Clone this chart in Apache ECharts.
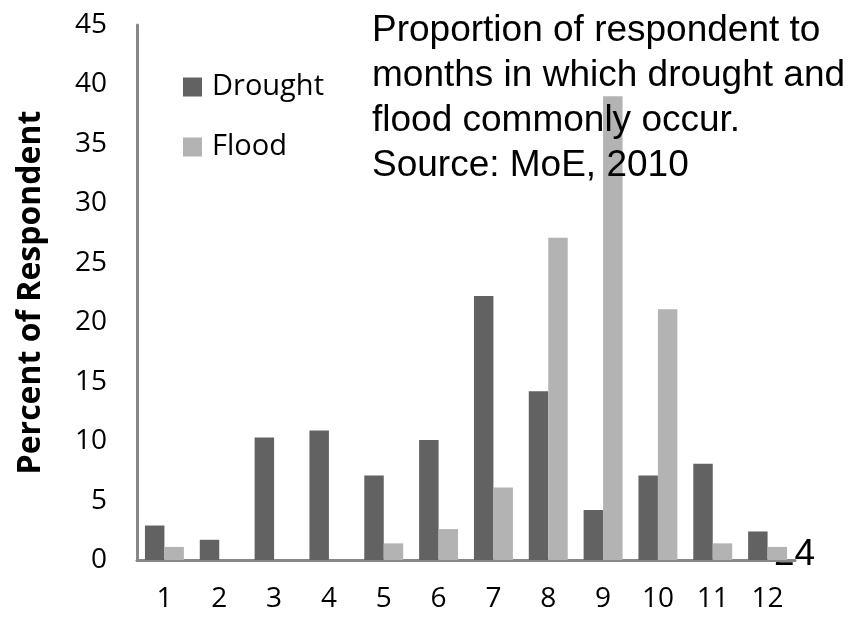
<!DOCTYPE html>
<html>
<head>
<meta charset="utf-8">
<script src="https://cdn.jsdelivr.net/npm/echarts@6/dist/echarts.min.js"></script>
<style>html,body{margin:0;padding:0;background:#fff}#c{width:866px;height:626px}</style>
</head>
<body>
<div id="c"></div>
<script>
const months = ['1','2','3','4','5','6','7','8','9','10','11','12'];
const drought = [2.9, 1.7, 10.3, 10.9, 7.1, 10.1, 22.2, 14.2, 4.2, 7.1, 8.1, 2.4];
const flood = [1.1, 0, 0, 0, 1.4, 2.6, 6.1, 27.1, 39.0, 21.1, 1.4, 1.1];
const seriesNames = ['Drought', 'Flood'];
const yAxisName = 'Percent of Respondent';
const noteLines = ['Proportion of respondent to', 'months in which drought and', 'flood commonly occur.', 'Source: MoE, 2010'];
const pageNumber = '24';

const chart = echarts.init(document.getElementById('c'));
chart.setOption({
  animation: false,
  backgroundColor: '#ffffff',
  grid: { left: 137, right: 71, top: 25, bottom: 66, show: true, backgroundColor: '#ffffff', borderWidth: 0, z: 0 },
  legend: {
    orient: 'vertical', left: 178, top: 66,
    itemWidth: 19, itemHeight: 19, itemGap: 28, icon: 'rect',
    data: seriesNames,
    textStyle: { fontFamily: 'Open Sans', fontSize: 29, color: '#000', lineHeight: 32, padding: [0, 0, 0, 5] }
  },
  xAxis: {
    type: 'category', data: months,
    axisLine: { show: true, lineStyle: { color: '#888888', width: 3 } },
    axisTick: { show: false },
    axisLabel: { fontFamily: 'Open Sans', fontSize: 28, color: '#000', margin: 25 }
  },
  yAxis: {
    type: 'value', min: 0, max: 45, interval: 5,
    name: yAxisName, nameLocation: 'middle', nameGap: 90, nameRotate: 90,
    nameTextStyle: { fontFamily: 'Open Sans', fontWeight: 'bold', fontSize: 32, color: '#000' },
    axisLine: { show: true, lineStyle: { color: '#888888', width: 3 } },
    axisTick: { show: false },
    splitLine: { show: false },
    axisLabel: { fontFamily: 'Open Sans', fontSize: 28, color: '#000', margin: 30 }
  },
  series: [
    { name: seriesNames[0], type: 'bar', data: drought, barGap: '0%', barCategoryGap: '29%',
      itemStyle: { color: '#626262' } },
    { name: seriesNames[1], type: 'bar', data: flood, barGap: '0%', barCategoryGap: '29%',
      itemStyle: { color: '#b3b3b3' } }
  ],
  graphic: [
    { type: 'text', z: -1, left: 774, top: 536,
      style: { text: pageNumber, font: '37px "Liberation Sans"', fill: '#000' } },
    { type: 'text', z: 100, left: 372, top: 8,
      style: { text: noteLines.join('\n'), font: '37px "Liberation Sans"', lineHeight: 45, fill: '#000' } }
  ]
});
</script>
</body>
</html>
